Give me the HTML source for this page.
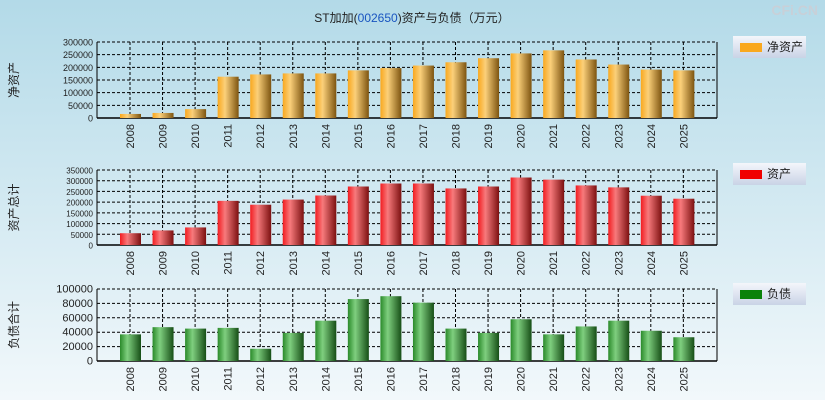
<!DOCTYPE html>
<html><head><meta charset="utf-8"><style>
body{margin:0;width:825px;height:400px;overflow:hidden;font-family:"Liberation Sans","Noto Sans CJK SC",sans-serif}
#bg{position:absolute;left:0;top:0;width:825px;height:400px;background:linear-gradient(#b3dae8,#f2f8fb)}
</style></head><body>
<div id="bg"></div>
<svg id="c" width="825" height="400" style="position:absolute;left:0;top:0">
<defs>
<linearGradient id="g0" x1="0" x2="1"><stop offset="0" stop-color="#f9a81e"/><stop offset="0.35" stop-color="#fbd07a"/><stop offset="1" stop-color="#7d5410"/></linearGradient>
<linearGradient id="g1" x1="0" x2="1"><stop offset="0" stop-color="#f21c20"/><stop offset="0.35" stop-color="#f77a7c"/><stop offset="1" stop-color="#7c1010"/></linearGradient>
<linearGradient id="g2" x1="0" x2="1"><stop offset="0" stop-color="#2a8a2a"/><stop offset="0.35" stop-color="#7fcf7f"/><stop offset="1" stop-color="#164e16"/></linearGradient>
<linearGradient id="lg" x1="0" x2="0" y1="0" y2="1"><stop offset="0" stop-color="#f4f6fb"/><stop offset="1" stop-color="#c9d3e6"/></linearGradient>
</defs>
<text x="412" y="22" font-size="12" text-anchor="middle" fill="#222">ST加加(<tspan fill="#1a55c0">002650</tspan>)资产与负债（万元）</text>
<text x="818" y="15" font-size="14" text-anchor="end" fill="#c8d0d8" font-weight="bold">CFi.CN</text>
</svg>
<script>
const years=["2008","2009","2010","2011","2012","2013","2014","2015","2016","2017","2018","2019","2020","2021","2022","2023","2024","2025"];
const netAssets=[16000,20000,35000,163000,172000,176000,176000,188000,197000,207000,220000,236000,255000,267000,231000,211000,191000,188000];
const totalAssets=[55000,68000,82000,206000,188000,212000,231000,273000,287000,287000,264000,273000,315000,305000,278000,269000,230000,216000];
const liabilities=[37000,47000,45000,46000,17000,39000,56000,86000,90000,81000,45000,39000,58000,37000,48000,56000,42000,33000];
const ticks0=[0,50000,100000,150000,200000,250000,300000];
const ticks1=[0,50000,100000,150000,200000,250000,300000,350000];
const ticks2=[0,20000,40000,60000,80000,100000];
const svg=document.getElementById('c');const NS='http://www.w3.org/2000/svg';
function mk(t,a,p){const e=document.createElementNS(NS,t);for(const k in a)e.setAttribute(k,a[k]);(p||svg).appendChild(e);return e;}
const X0=97,X1=717;
function panel(vals,ticks,max,top,bot,grad,ytitle,leg,legColor,fs,key,legY){
 const y=v=>bot-(v/max)*(bot-top);
 const x=i=>X0+33+i*32.55;
 const g=mk('g',{});
 ticks.forEach(t=>{const l=mk('line',{x1:X0,x2:X1,y1:y(t),y2:y(t),stroke:'#000','stroke-dasharray':'3,2','stroke-width':1},g);
  const tx=mk('text',{x:X0-4,y:y(t)+3.5,'font-size':fs,'text-anchor':'end',fill:'#222'},g);tx.textContent=t;});
 years.forEach((yr,i)=>{const l=mk('line',{x1:x(i),x2:x(i),y1:top,y2:bot,stroke:'#000','stroke-dasharray':'3,2'},g);});
 mk('line',{x1:X0,x2:X0,y1:top,y2:bot,stroke:'#000'},g);mk('line',{x1:X1,x2:X1,y1:top,y2:bot,stroke:'#000'},g);
 mk('line',{x1:X0,x2:X1,y1:bot,y2:bot,stroke:'#000','stroke-width':1.5},g);
 vals.forEach((v,i)=>{const r=mk('rect',{x:x(i)-10,y:y(v),width:21,height:bot-y(v),fill:'url(#'+grad+')'},g);
  const t=mk('text',{x:0,y:0,'font-size':11,fill:'#222','text-anchor':'end',transform:`translate(${x(i)+4},${bot+6}) rotate(-90)`},g);t.textContent=years[i];});
 const yt=mk('text',{x:0,y:0,'font-size':12,fill:'#222','text-anchor':'middle',transform:`translate(18,${(top+bot)/2}) rotate(-90)`},g);yt.textContent=ytitle;
 const lg=mk('g',{},g);
 mk('rect',{x:733,y:legY,width:73,height:22,fill:'url(#lg)'},lg);
 mk('rect',{x:740,y:legY+7,width:22,height:9,fill:legColor},lg);
 const lt=mk('text',{x:767,y:legY+15,'font-size':12,fill:'#222'},lg);lt.textContent=leg;
}
panel(netAssets,ticks0,300000,42,118,'g0','净资产','净资产','#f9a81e',9,'net-assets',36);
panel(totalAssets,ticks1,350000,170,245,'g1','资产总计','资产','#f00000',8,'total-assets',163);
panel(liabilities,ticks2,100000,289,361,'g2','负债合计','负债','#0a820a',11,'liabilities',283);
</script>
</body></html>
